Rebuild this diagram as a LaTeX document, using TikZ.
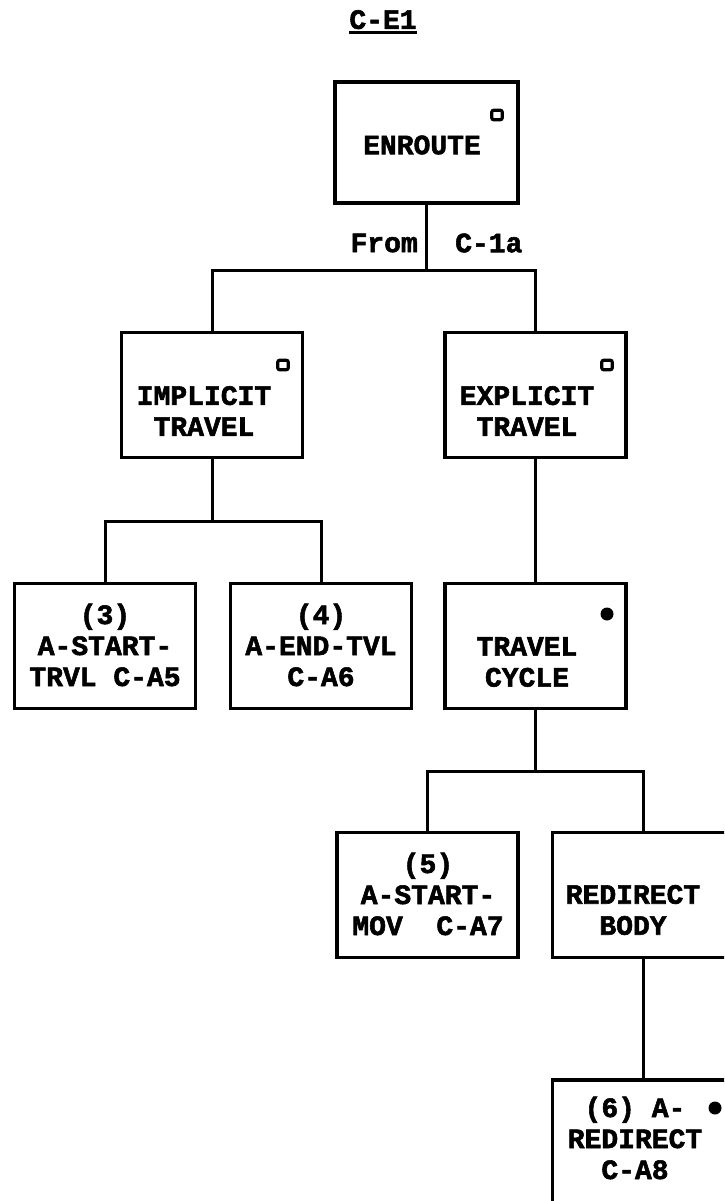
\documentclass[tikz,border=0pt]{standalone}
\usepackage{fontspec}
\setmainfont{Liberation Mono}[BoldFeatures={FakeBold=2}]
\newcommand{\thickul}[1]{{\setbox0\hbox{#1}\rlap{\rule[-5pt]{\wd0}{2.8pt}}\box0}}
\begin{document}
\begin{tikzpicture}[x=1pt,y=-1pt,
  box/.style={draw, line width=3.5pt, minimum width=181pt, minimum height=125pt, inner sep=0pt},
  txt/.style={font=\fontsize{28}{31}\selectfont\bfseries, align=center, inner sep=0pt},
  conn/.style={line width=3pt},
  opensq/.style={draw, line width=3.2pt, rounded corners=2pt, minimum width=10.5pt, minimum height=9.5pt, inner sep=0pt},
  dotmark/.style={circle, fill, minimum size=13pt, inner sep=0pt}]
\clip (0,0) rectangle (724,1201);
\fill[white] (0,0) rectangle (724,1201);

% title
\node[txt] (title) at (383,22) {\thickul{C-E1}};

% boxes
\node[box, minimum width=183pt, minimum height=121pt] (enroute) at (426.5,142.5) {};
\node[box] (implicit) at (212,395) {};
\node[box] (explicit) at (535.5,395) {};
\node[box] (s3) at (105,646) {};
\node[box] (s4) at (321,646) {};
\node[box] (travel) at (535.5,646) {};
\node[box] (s5) at (427.5,895) {};
\node[box] (redir) at (643,895) {};
\node[box] (s6) at (643,1142.5) {};

% texts
\node[txt] (enroutet) at (422,145) {ENROUTE};
\node[txt] (implicitt) at (204,411) {IMPLICIT\\TRAVEL};
\node[txt] (explicitt) at (527,411) {EXPLICIT\\TRAVEL};
\node[txt] (s3t) at (105,645) {(3)\\A-START-\\TRVL C-A5};
\node[txt] (s4t) at (321,645) {(4)\\A-END-TVL\\C-A6};
\node[txt] (travelt) at (527,662) {TRAVEL\\CYCLE};
\node[txt] (s5t) at (428,894) {(5)\\A-START-\\MOV\ \ C-A7};
\node[txt] (redirt) at (633,910) {REDIRECT\\BODY};
\node[txt] (s6t) at (635,1138) {(6) A-\\REDIRECT\\C-A8};

% marks
\node[opensq] (m1) at (497,115) {};
\node[opensq] (m2) at (283,365) {};
\node[opensq] (m3) at (607,365) {};
\node[dotmark] (m4) at (607,614) {};
\node[dotmark] (m5) at (715,1108) {};

% connectors
\coordinate (b1) at (426.5,270);
\draw[conn] (enroute.south) -- (b1);
\draw[conn] (implicit.north) |- (b1) -| (explicit.north);
\node[txt, anchor=east] (from) at (418,243) {From};
\node[txt, anchor=west] (c1a) at (455,243) {C-1a};

\coordinate (b2) at (212,521);
\draw[conn] (implicit.south) -- (b2);
\draw[conn] (s3.north) |- (b2) -| (s4.north);

\draw[conn] (explicit.south) -- (travel.north);

\coordinate (b3) at (535.5,771);
\draw[conn] (travel.south) -- (b3);
\draw[conn] (s5.north) |- (b3) -| (redir.north);

\draw[conn] (redir.south) -- (s6.north);
\end{tikzpicture}
\end{document}
